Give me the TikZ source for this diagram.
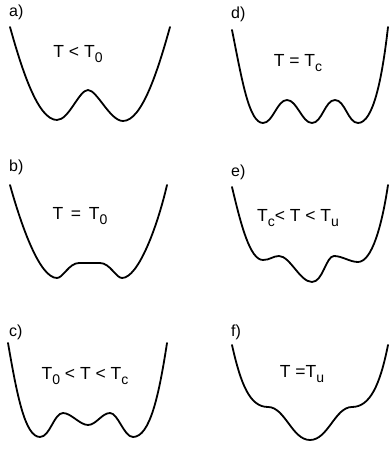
\documentclass[tikz,border=0pt]{standalone}
\usepackage{fontspec}
\setmainfont{Liberation Sans}
\usepackage{tikz}
\usetikzlibrary{positioning}

\newcommand{\lowidx}[1]{\raisebox{-0.6ex}{\fontsize{14}{14}\selectfont #1}}

\begin{document}
\begin{tikzpicture}[
        x = 1pt, y = 1pt,
        well/.style = {line width = 1.8pt, line join = round, line cap = round},
        panel/.style = {anchor = west, inner sep = 0pt, font = \fontsize{16}{16}\selectfont},
        temp/.style = {inner sep = 0pt, font = \fontsize{17.5}{19}\selectfont}
    ]

      \useasboundingbox (0,0) rectangle (390,450);

      % left column
      \node[panel] (pa) at (9,438) {a)};
      \node[temp] (ta) at (78,396) {T < T\lowidx{0}};
      \draw[well] (10,423) .. controls (22,380) and (38,330) .. (57,330)
            .. controls (69,330) and (79,360) .. (88,360)
            .. controls (97,360) and (110,329) .. (123,329)
            .. controls (142,329) and (158,380) .. (170,423);

      \node[panel] (pb) at (9,283) {b)};
      \node[temp] (tb) at (80,234) {T \,=\, T\lowidx{0}};
      \draw[well] (10,265) .. controls (22,222) and (40,172) .. (57,172)
            .. controls (63,172) and (69,187) .. (79,187)
            -- (100,187)
            .. controls (110,187) and (116,172) .. (122,172)
            .. controls (138,172) and (157,222) .. (167,265);

      \node[panel] (pc) at (9,118) {c)};
      \node[temp] (tc) at (85,74) {T\lowidx{0} < T < T\lowidx{c}};
      \draw[well] (8,107) .. controls (17,55) and (25,13) .. (40,13)
            .. controls (50,13) and (54,37) .. (63,37)
            .. controls (71,37) and (80,25) .. (88,25)
            .. controls (96,25) and (102,37) .. (110,37)
            .. controls (118,37) and (124,13) .. (133,13)
            .. controls (150,13) and (159,55) .. (167,107);

      % right column
      \node[panel] (pd) at (231,436) {d)};
      \node[temp] (td) at (298,387) {T = T\lowidx{c}};
      \draw[well] (232,420) .. controls (242,370) and (249,327) .. (263,327)
            .. controls (273,327) and (277,350) .. (287,350)
            .. controls (297,350) and (302,327) .. (312,327)
            .. controls (322,327) and (325,350) .. (335,350)
            .. controls (345,350) and (348,327) .. (358,327)
            .. controls (373,327) and (382,370) .. (388,423);

      \node[panel] (pe) at (231,278) {e)};
      \node[temp] (te) at (298,232) {T\lowidx{c}< T < T\lowidx{u}};
      \draw[well] (232,263) .. controls (241,225) and (250,190) .. (263,190)
            .. controls (270,190) and (273,194) .. (279,194)
            .. controls (290,194) and (300,168) .. (312,168)
            .. controls (323,168) and (326,194) .. (334,194)
            .. controls (342,194) and (350,188) .. (358,188)
            .. controls (372,188) and (382,225) .. (388,265);

      \node[panel] (pf) at (231,118) {f)};
      \node[temp] (tf) at (302,76) {T =T\lowidx{u}};
      \draw[well] (232,105) .. controls (241,65) and (250,43) .. (268,43)
            .. controls (285,43) and (292,10) .. (310,10)
            .. controls (328,10) and (335,43) .. (352,43)
            .. controls (370,43) and (380,65) .. (388,105);

\end{tikzpicture}
\end{document}
